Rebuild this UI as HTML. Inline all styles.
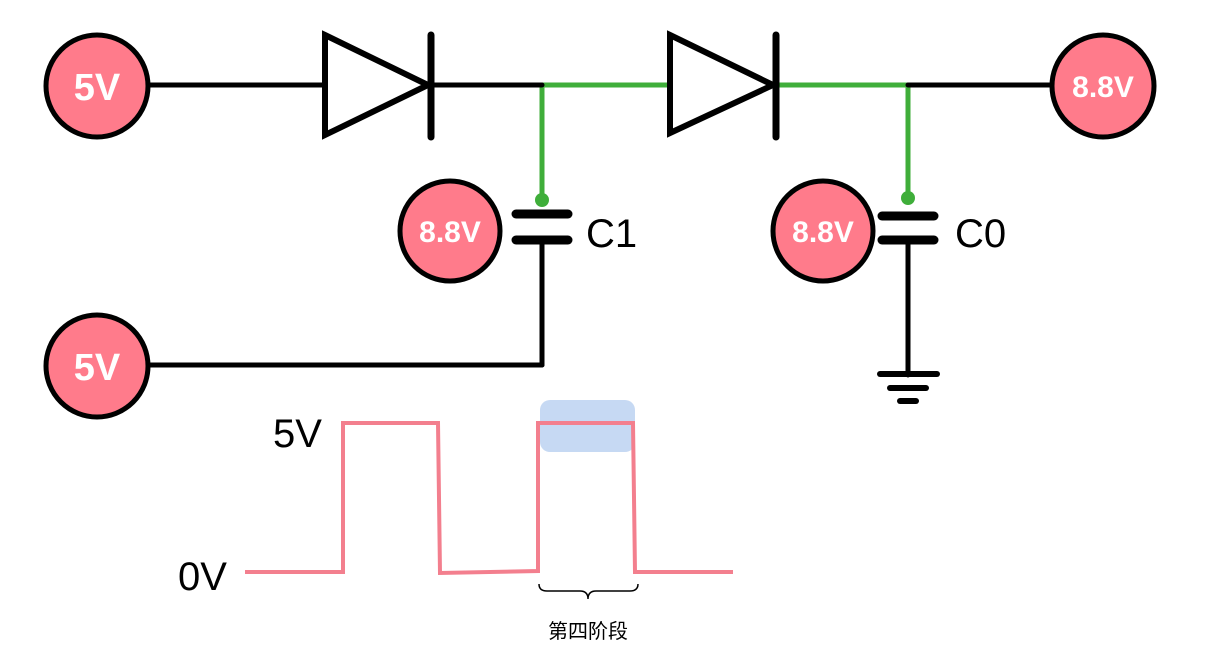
<!DOCTYPE html>
<html><head><meta charset="utf-8"><style>
html,body{margin:0;padding:0;background:#fff;width:1221px;height:670px;overflow:hidden}
</style></head><body>
<svg width="1221" height="670" viewBox="0 0 1221 670" xmlns="http://www.w3.org/2000/svg">
<rect x="540" y="400" width="95" height="52" rx="10" fill="#c6d9f3"/>
<g stroke="#3fae3a" stroke-width="5" fill="none">
<line x1="542" y1="85" x2="670" y2="85"/>
<line x1="776" y1="85" x2="908" y2="85"/>
<line x1="542" y1="85" x2="542" y2="200"/>
<line x1="908" y1="85" x2="908" y2="198"/>
</g>
<g fill="none" stroke="#000" stroke-width="5" stroke-linecap="round">
<line x1="150" y1="85" x2="325" y2="85"/>
<line x1="430" y1="85" x2="542" y2="85"/>
<line x1="908" y1="85" x2="1050" y2="85"/>
<polygon points="325,35 428,85 325,135" fill="#fff" stroke-width="6"/>
<line x1="431" y1="35" x2="431" y2="137" stroke-width="7"/>
<polygon points="670,35 773,85 670,133" fill="#fff" stroke-width="6"/>
<line x1="776" y1="35" x2="776" y2="137" stroke-width="7"/>
<line x1="542" y1="241" x2="542" y2="365"/>
<line x1="150" y1="365" x2="542" y2="365"/>
<line x1="908" y1="241" x2="908" y2="375"/>
<line x1="516" y1="214" x2="568" y2="214" stroke-width="9"/>
<line x1="516" y1="240" x2="568" y2="240" stroke-width="9"/>
<line x1="882" y1="216" x2="934" y2="216" stroke-width="9"/>
<line x1="882" y1="240" x2="934" y2="240" stroke-width="9"/>
<line x1="880" y1="374" x2="937" y2="374" stroke-width="6"/>
<line x1="890" y1="388" x2="926" y2="388" stroke-width="6"/>
<line x1="900" y1="401" x2="916" y2="401" stroke-width="6"/>
</g>
<circle cx="542" cy="200" r="7" fill="#3fae3a"/>
<circle cx="908" cy="198" r="7" fill="#3fae3a"/>
<g fill="#ff7b8b" stroke="#000" stroke-width="5">
<circle cx="97" cy="86" r="51"/>
<circle cx="1103" cy="86" r="51"/>
<circle cx="450" cy="231" r="50"/>
<circle cx="823" cy="231" r="50"/>
<circle cx="97" cy="366" r="51"/>
</g>
<g fill="#fff" font-family="Liberation Sans, sans-serif" text-anchor="middle" font-weight="bold">
<text x="97" y="100" font-size="38">5V</text>
<text x="97" y="380" font-size="38">5V</text>
<text x="1103" y="97" font-size="30">8.8V</text>
<text x="450" y="242" font-size="30">8.8V</text>
<text x="823" y="242" font-size="30">8.8V</text>
</g>
<g font-family="Liberation Sans, sans-serif" font-size="40" fill="#000">
<text x="586" y="247">C1</text>
<text x="955" y="247">C0</text>
<text x="273" y="447">5V</text>
<text x="178" y="590">0V</text>
</g>
<polyline points="245,572 343,572 343,423 438,423 440,573 538,571 538,423 633,423 635,572 733,572" fill="none" stroke="#f37f8e" stroke-width="4"/>
<path d="M539,584 q0,7 8,7 h33 q8,0 8,8 q0,-8 8,-8 h34 q8,0 8,-7" fill="none" stroke="#000" stroke-width="1.5"/>
<text x="588" y="638" font-family="Liberation Sans, 'Noto Sans CJK SC', sans-serif" font-size="20" text-anchor="middle">第四阶段</text>
</svg>
</body></html>
